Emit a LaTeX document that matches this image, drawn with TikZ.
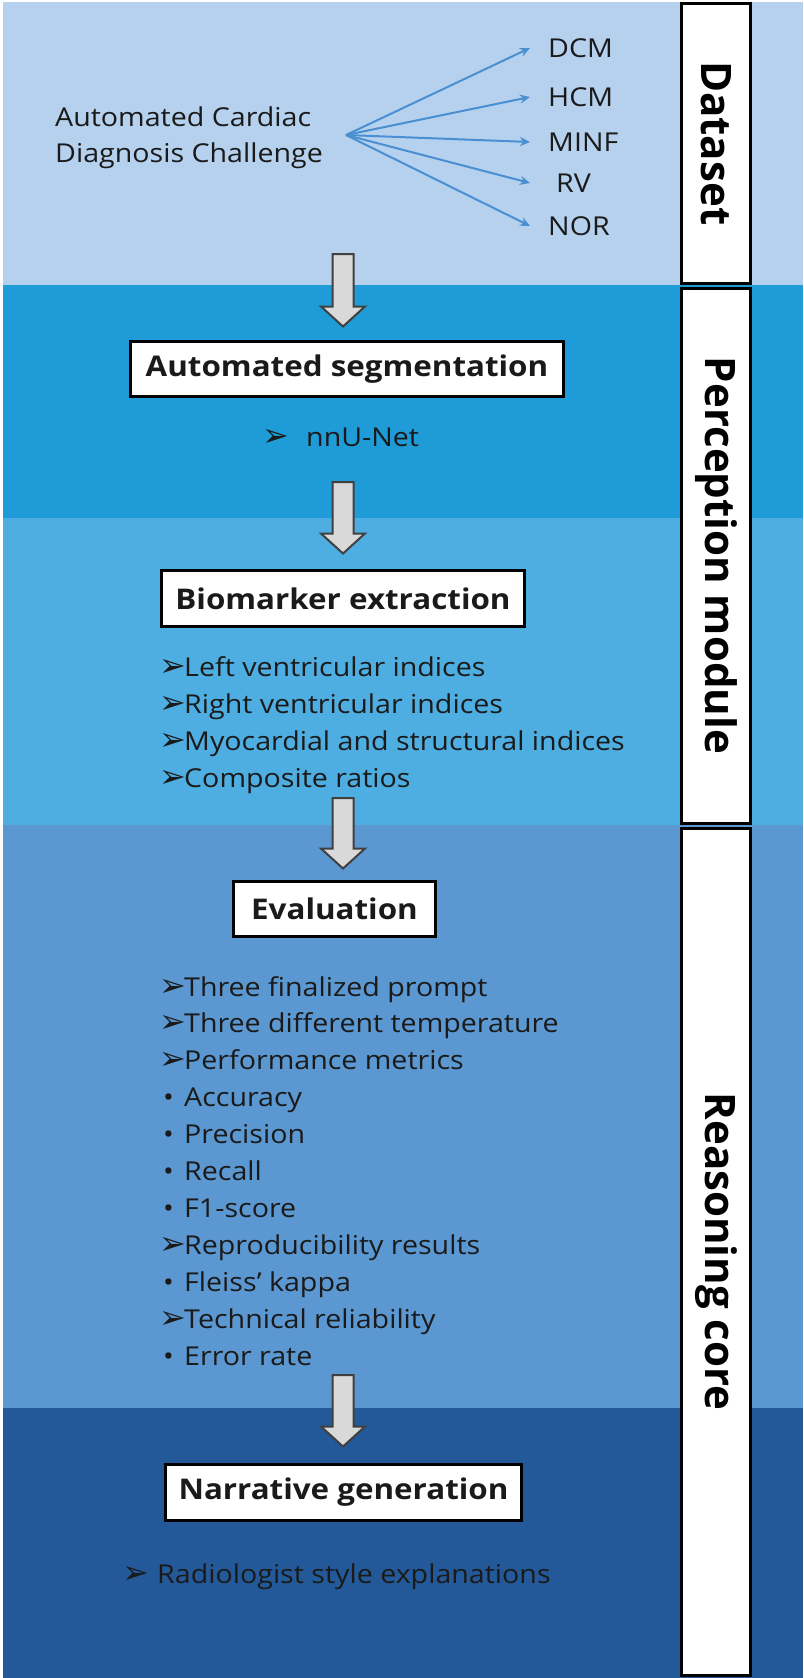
\documentclass[tikz,border=0pt]{standalone}
\usepackage{fontspec}
\setmainfont{Open Sans}
\newfontfamily\bodyf[FakeStretch=1.1]{Open Sans}
\newfontfamily\symf{DejaVu Sans}
\usetikzlibrary{arrows.meta,calc}
\definecolor{bandA}{HTML}{B5D1EE}
\definecolor{bandB}{HTML}{1F9BD7}
\definecolor{bandC}{HTML}{4FAEE1}
\definecolor{bandD}{HTML}{5B97D0}
\definecolor{bandE}{HTML}{235999}
\definecolor{linkblue}{HTML}{4A8FD2}
\definecolor{arrgray}{HTML}{D9D9D9}
\definecolor{ink}{HTML}{1A1A1A}
\newcommand\hd{{\symf\fontsize{32}{32}\selectfont\hspace{-2pt}➢}}
\newcommand\ab{\makebox[23pt][l]{\hd}}
\newcommand\db{\makebox[23pt][l]{\hspace{2pt}•}}
\newcommand\blockarrow[2]{%
  \draw[garrow] let \p1=(#1), \p2=(#2) in
    (\x2-10.5pt,\y1) -- (\x2+10.5pt,\y1) -- (\x2+10.5pt,\y2+20pt) -- (\x2+22pt,\y2+20pt)
    -- (\x2,\y2) -- (\x2-22pt,\y2+20pt) -- (\x2-10.5pt,\y2+20pt) -- cycle;}
\tikzset{
  body/.style={inner sep=0pt, text=ink, font=\bodyf\fontsize{26}{36}\selectfont},
  stepbox/.style={draw=black, line width=3pt, fill=white, inner sep=0pt, text=ink,
    font=\bodyf\bfseries\fontsize{28.5}{30}\selectfont},
  colbox/.style={draw=black, line width=3pt, fill=white, inner sep=0pt, rotate=-90,
    minimum height=69pt, font=\bfseries\fontsize{42}{42}\selectfont},
  link/.style={draw=linkblue, line width=2pt, -{Stealth[length=10pt,width=9pt]}},
  garrow/.style={fill=arrgray, draw=black!75, line width=2pt, line join=miter}
}
\begin{document}
\begin{tikzpicture}[x=1pt,y=-1pt]
\useasboundingbox (0,0) rectangle (803,1678);
\fill[white] (0,0) rectangle (803,1678);
\fill[bandA] (3,2) rectangle (803,285);
\fill[bandB] (3,285) rectangle (803,518);
\fill[bandC] (3,518) rectangle (803,825);
\fill[bandD] (3,825) rectangle (803,1408);
\fill[bandE] (3,1408) rectangle (803,1678);

% right column
\node[colbox, minimum width=279.5pt] (cdata) at (716,143.25) {Dataset};
\node[colbox, minimum width=535pt] (cperc) at (716,555.5) {Perception module};
\node[colbox, minimum width=847pt] (creas) at (716,1251.5) {Reasoning core};

% dataset
\node[body, align=left, anchor=west] (acdc) at (55,138) {Automated Cardiac\\Diagnosis Challenge};
\coordinate (src) at (346,135);
\node[body, anchor=west] (dcm) at (548,48) {DCM};
\node[body, anchor=west] (hcm) at (548,97) {HCM};
\node[body, anchor=west] (minf) at (548,142) {MINF};
\node[body, anchor=west] (rv) at (556,183) {RV};
\node[body, anchor=west] (nor) at (548,226) {NOR};
\draw[link] (src) -- ([xshift=-18pt]dcm.west);
\draw[link] (src) -- ([xshift=-18pt]hcm.west);
\draw[link] (src) -- ([xshift=-18pt]minf.west);
\draw[link] (src) -- ([xshift=-26pt]rv.west);
\draw[link] (src) -- ([xshift=-18pt]nor.west);

% boxes
\node[stepbox, minimum width=433pt, minimum height=55pt] (seg) at (347,369) {Automated segmentation};
\node[stepbox, minimum width=363pt, minimum height=56pt] (bio) at (343,598.5) {Biomarker extraction};
\node[stepbox, minimum width=202pt, minimum height=55pt] (eval) at (334.5,909) {Evaluation};
\node[stepbox, minimum width=356pt, minimum height=56pt] (narr) at (343.5,1492.5) {Narrative generation};

% block arrows
\coordinate (a1) at (343,254);
\coordinate (a2) at (343,482);
\coordinate (a3) at (343,798);
\coordinate (a4) at (343,1375);
\blockarrow{a1}{$(a1 |- seg.north)+(0,-13.5)$}
\blockarrow{a2}{$(a2 |- bio.north)+(0,-15.5)$}
\blockarrow{a3}{$(a3 |- eval.north)+(0,-11.5)$}
\blockarrow{a4}{$(a4 |- narr.north)+(0,-16.5)$}

% texts
\node[body, anchor=base west] (nnu) at (264,446) {\makebox[42pt][l]{\hd}nnU-Net};
\foreach \t [count=\i from 0] in {{\ab Left ventricular indices},{\ab Right ventricular indices},{\ab Myocardial and structural indices},{\ab Composite ratios}}
  \node[body, anchor=base west] (bm\i) at (161,676+37*\i) {\t};
\foreach \t [count=\i from 0] in {{\ab Three finalized prompt},{\ab Three different temperature},{\ab Performance metrics},{\db Accuracy},{\db Precision},{\db Recall},{\db F1-score},{\ab Reproducibility results},{\db Fleiss’ kappa},{\ab Technical reliability},{\db Error rate}}
  \node[body, anchor=base west] (ev\i) at (161,996+36.9*\i) {\t};
\node[body, anchor=base west] (rad) at (124,1583) {\makebox[33pt][l]{\hd}Radiologist style explanations};
\end{tikzpicture}
\end{document}
